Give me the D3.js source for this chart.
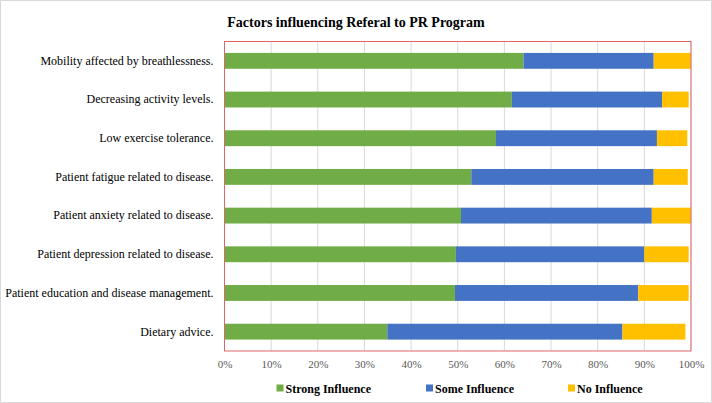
<!DOCTYPE html>
<html><head><meta charset="utf-8">
<script src="https://cdn.jsdelivr.net/npm/d3@7"></script>
<style>html,body{margin:0;padding:0;background:#fff;}svg{display:block;}</style>
</head><body>
<script>
const categories = [
  "Mobility affected by breathlessness.",
  "Decreasing activity levels.",
  "Low exercise tolerance.",
  "Patient fatigue related to disease.",
  "Patient anxiety related to disease.",
  "Patient depression related to disease.",
  "Patient education and disease management.",
  "Dietary advice."
];
const strongInfluence = [64.1, 61.6, 58.2, 52.9, 50.7, 49.6, 49.4, 34.9];
const someInfluence   = [27.9, 32.2, 34.5, 39.1, 40.9, 40.4, 39.3, 50.4];
const noInfluence     = [8.0, 5.7, 6.5, 7.3, 8.4, 9.5, 10.8, 13.5];
const seriesNames = ["Strong Influence", "Some Influence", "No Influence"];
const seriesColors = ["#70ad47", "#4472c4", "#ffc000"];
const tickValues = [0,10,20,30,40,50,60,70,80,90,100];

const W = 712, H = 403;
const m = {left: 224.5, right: 691, top: 41.5, bottom: 351};
const FF = '"Liberation Serif"';
const svg = d3.select("body").append("svg").attr("width", W).attr("height", H);

svg.append("rect").attr("x",0.5).attr("y",0.5).attr("width",W-1).attr("height",H-1)
  .attr("fill","#fff").attr("stroke","#d9d9d9");

const x = d3.scaleLinear().domain([0,100]).range([m.left, m.right]);
const y = d3.scaleBand().domain(categories).range([m.top, m.bottom]).paddingInner(0.59).paddingOuter(0.295);

// gridlines
svg.append("g").selectAll("line").data(tickValues).join("line")
  .attr("x1", d=>x(d)).attr("x2", d=>x(d)).attr("y1", m.top).attr("y2", m.bottom)
  .attr("stroke","#d9d9d9").attr("stroke-width",1);

// stacked bars
const rows = categories.map((c,i)=>({cat:c, s0:strongInfluence[i], s1:someInfluence[i], s2:noInfluence[i]}));
const stack = d3.stack().keys(["s0","s1","s2"])(rows);
svg.append("g").selectAll("g").data(stack).join("g")
  .attr("fill",(d,i)=>seriesColors[i])
  .selectAll("rect").data(d=>d).join("rect")
  .attr("x", d=>x(d[0])).attr("width", d=>x(d[1])-x(d[0]))
  .attr("y", d=>y(d.data.cat)).attr("height", y.bandwidth());

// plot border
svg.append("rect").attr("x",m.left).attr("y",m.top).attr("width",m.right-m.left).attr("height",m.bottom-m.top)
  .attr("fill","none").attr("stroke","#e06666").attr("stroke-width",1);

// y labels
const yAxis = d3.axisLeft(y).tickSize(0).tickPadding(11);
const ya = svg.append("g").attr("transform",`translate(${m.left},0)`).call(yAxis);
ya.attr("font-family",null);
ya.select(".domain").remove();
ya.selectAll("text").style("font-family",FF).style("font-size","12px").attr("fill","#000");

// x ticks
const xAxis = d3.axisBottom(x).tickValues(tickValues).tickFormat(d=>d+"%").tickSize(0).tickPadding(9);
const xa = svg.append("g").attr("transform",`translate(0,${m.bottom})`).call(xAxis);
xa.attr("font-family",null);
xa.select(".domain").remove();
xa.selectAll("text").style("font-family",FF).style("font-size","11px").attr("fill","#595959");

// title
svg.append("text").attr("x",356).attr("y",27).attr("text-anchor","middle")
  .style("font-family",FF).style("font-weight","bold").style("font-size","14px")
  .text("Factors influencing Referal to PR Program");

// legend
const legX = [276.5, 426, 568];
const lg = svg.append("g").selectAll("g").data(seriesNames).join("g")
  .attr("transform",(d,i)=>`translate(${legX[i]},388)`);
lg.append("rect").attr("x",0).attr("y",-3.5).attr("width",7).attr("height",7).attr("fill",(d,i)=>seriesColors[i]);
lg.append("text").attr("x",9).attr("y",4.5).style("font-family",FF).style("font-weight","bold")
  .style("font-size","12px").attr("fill","#000").text(d=>d);
</script>
</body></html>
